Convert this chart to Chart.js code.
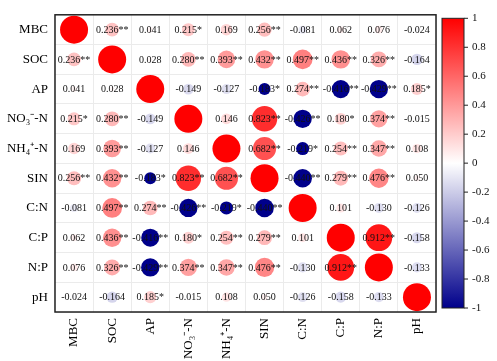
<!DOCTYPE html>
<html lang="en">
<head>
<meta charset="UTF-8" />
<title>Correlation matrix</title>
<script src="https://cdn.jsdelivr.net/npm/chart.js"></script>
<style>
  html, body { margin: 0; padding: 0; background: #fff; }
  .chart-wrapper { width: 497px; height: 361px; }
</style>
</head>
<body>
<div class="chart-wrapper"><canvas id="corrChart" width="497" height="361"></canvas></div>

<script>
// variable names (row/column order)
const labels = ['MBC', 'SOC', 'AP', 'NO₃⁻-N', 'NH₄⁺-N', 'SIN', 'C:N', 'C:P', 'N:P', 'pH'];

// correlation coefficients, one row per variable
const rMBC = [1, 0.236, 0.041, 0.215, 0.169, 0.256, -0.081, 0.062, 0.076, -0.024];
const rSOC = [0.236, 1, 0.028, 0.280, 0.393, 0.432, 0.497, 0.436, 0.326, -0.164];
const rAP  = [0.041, 0.028, 1, -0.149, -0.127, -0.183, 0.274, -0.416, -0.429, 0.185];
const rNO3 = [0.215, 0.280, -0.149, 1, 0.146, 0.823, -0.426, 0.180, 0.374, -0.015];
const rNH4 = [0.169, 0.393, -0.127, 0.146, 1, 0.682, -0.219, 0.254, 0.347, 0.108];
const rSIN = [0.256, 0.432, -0.183, 0.823, 0.682, 1, -0.440, 0.279, 0.476, 0.050];
const rCN  = [-0.081, 0.497, 0.274, -0.426, -0.219, -0.440, 1, 0.101, -0.130, -0.126];
const rCP  = [0.062, 0.436, -0.416, 0.180, 0.254, 0.279, 0.101, 1, 0.912, -0.158];
const rNP  = [0.076, 0.326, -0.429, 0.374, 0.347, 0.476, -0.130, 0.912, 1, -0.133];
const rPH  = [-0.024, -0.164, 0.185, -0.015, 0.108, 0.050, -0.126, -0.158, -0.133, 1];

// significance marks
const sMBC = ['', '**', '', '*', '', '**', '', '', '', ''];
const sSOC = ['**', '', '', '**', '**', '**', '**', '**', '**', ''];
const sAP  = ['', '', '', '', '', '*', '**', '**', '**', '*'];
const sNO3 = ['*', '**', '', '', '', '**', '**', '*', '**', ''];
const sNH4 = ['', '**', '', '', '', '**', '*', '**', '**', ''];
const sSIN = ['**', '**', '*', '**', '**', '', '**', '**', '**', ''];
const sCN  = ['', '**', '**', '**', '*', '**', '', '', '', ''];
const sCP  = ['', '**', '**', '*', '**', '**', '', '', '**', ''];
const sNP  = ['', '**', '**', '**', '**', '**', '', '**', '', ''];
const sPH  = ['', '', '*', '', '', '', '', '', '', ''];

// colour bar ticks
const barTicks = [1, 0.8, 0.6, 0.4, 0.2, 0, -0.2, -0.4, -0.6, -0.8, -1];
const barTickLabels = ['1', '0.8', '0.6', '0.4', '0.2', '0', '-0.2', '-0.4', '-0.6', '-0.8', '-1'];

const rMatrix = [rMBC, rSOC, rAP, rNO3, rNH4, rSIN, rCN, rCP, rNP, rPH];
const sMatrix = [sMBC, sSOC, sAP, sNO3, sNH4, sSIN, sCN, sCP, sNP, sPH];

const SERIF = '"Liberation Serif", "Times New Roman", serif';
const NAVY = [0, 0, 139];
const MAX_R = 14;

function colorFor(v, sig) {
  if (v >= 0) {
    const g = Math.round(255 * (1 - v));
    return `rgb(255,${g},${g})`;
  }
  if (sig) return `rgb(${NAVY.join(',')})`;
  const t = -v;
  const c = NAVY.map(n => Math.round(255 + (n - 255) * t));
  return `rgb(${c.join(',')})`;
}

const points = [];
const colors = [];
rMatrix.forEach((row, i) => {
  row.forEach((v, j) => {
    points.push({ x: labels[j], y: labels[i], r: MAX_R * Math.sqrt(Math.abs(v)) });
    colors.push(colorFor(v, sMatrix[i][j]));
  });
});

// cell text + frame
const cellText = {
  id: 'cellText',
  afterDatasetsDraw(chart) {
    const { ctx, scales: { x, y }, chartArea } = chart;
    ctx.save();
    ctx.font = `10px ${SERIF}`;
    ctx.fillStyle = '#111';
    ctx.textAlign = 'center';
    ctx.textBaseline = 'middle';
    rMatrix.forEach((row, i) => {
      row.forEach((v, j) => {
        if (i === j) return;
        ctx.fillText(v.toFixed(3) + sMatrix[i][j], x.getPixelForValue(j), y.getPixelForValue(i) + 0.5);
      });
    });
    ctx.strokeStyle = '#222';
    ctx.lineWidth = 1.5;
    ctx.strokeRect(chartArea.left, chartArea.top, chartArea.right - chartArea.left, chartArea.bottom - chartArea.top);
    ctx.restore();
  }
};

// colour bar on the right
const colorBar = {
  id: 'colorBar',
  afterDraw(chart) {
    const { ctx, chartArea } = chart;
    const left = chartArea.right + 6, width = 22;
    const top = chartArea.top + 3.5, bottom = chartArea.bottom - 4;
    const grad = ctx.createLinearGradient(0, top, 0, bottom);
    grad.addColorStop(0, colorFor(1));
    grad.addColorStop(0.5, '#ffffff');
    grad.addColorStop(1, colorFor(-1, ''));
    ctx.save();
    ctx.fillStyle = grad;
    ctx.fillRect(left, top, width, bottom - top);
    ctx.strokeStyle = '#222';
    ctx.lineWidth = 1;
    ctx.strokeRect(left, top, width, bottom - top);
    ctx.font = `11px ${SERIF}`;
    ctx.fillStyle = '#111';
    ctx.textAlign = 'left';
    ctx.textBaseline = 'middle';
    barTicks.forEach((t, k) => {
      const ty = top + (1 - t) / 2 * (bottom - top);
      ctx.beginPath();
      ctx.moveTo(left + width, ty);
      ctx.lineTo(left + width + 4, ty);
      ctx.stroke();
      ctx.fillText(barTickLabels[k], left + width + 8, ty);
    });
    ctx.restore();
  }
};

new Chart(document.getElementById('corrChart'), {
  type: 'bubble',
  data: {
    datasets: [{
      data: points,
      backgroundColor: colors,
      borderWidth: 0,
      hoverBorderWidth: 0,
      hoverRadius: 0
    }]
  },
  options: {
    responsive: false,
    animation: false,
    layout: { padding: { top: 4, right: 61, left: 0, bottom: 0 } },
    plugins: {
      legend: { display: false },
      tooltip: { enabled: false }
    },
    scales: {
      x: {
        type: 'category',
        labels: labels,
        offset: true,
        grid: { offset: true, color: '#ebebeb', drawTicks: false },
        border: { display: false },
        ticks: {
          minRotation: 90, maxRotation: 90, padding: 6, color: '#000',
          font: { family: SERIF, size: 13 }
        },
        afterFit: s => { s.height = 49; }
      },
      y: {
        type: 'category',
        labels: labels,
        offset: true,
        grid: { offset: true, color: '#ebebeb', drawTicks: false },
        border: { display: false },
        ticks: {
          padding: 7, color: '#000',
          font: { family: SERIF, size: 13 }
        },
        afterFit: s => { s.width = 55; }
      }
    }
  },
  plugins: [cellText, colorBar]
});
</script>
</body>
</html>
